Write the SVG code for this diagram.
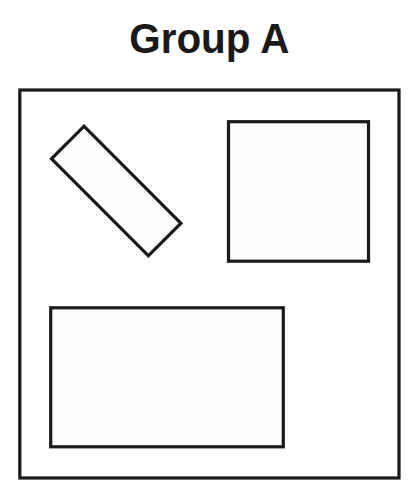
<svg xmlns="http://www.w3.org/2000/svg" width="420" height="500" viewBox="0 0 420 500">
<style>
.title{font-family:"Liberation Sans",Arial,sans-serif;font-weight:bold;font-size:43px;fill:#1a1a1a}
.shape{fill:#fdfdfb;stroke:#1a1a1a;stroke-width:3.2}
.frame{fill:#ffffff;stroke:#1a1a1a;stroke-width:3.2}
</style>
<rect width="420" height="500" fill="#ffffff"/>
<text class="title" x="209.3" y="52.5" text-anchor="middle" textLength="160" lengthAdjust="spacingAndGlyphs">Group A</text>
<g id="group-a">
<rect class="frame" x="19.8" y="90" width="379.2" height="388"/>
</g>
<g id="bar">
<rect class="shape" x="-68.5" y="-23" width="137" height="46" transform="translate(116.2 191) rotate(45)"/>
</g>
<g id="square">
<rect class="shape" x="228.5" y="121.7" width="140" height="139.5"/>
</g>
<g id="wide">
<rect class="shape" x="50.7" y="307.8" width="232.6" height="139"/>
</g>
<g id="connectors"/>
</svg>
